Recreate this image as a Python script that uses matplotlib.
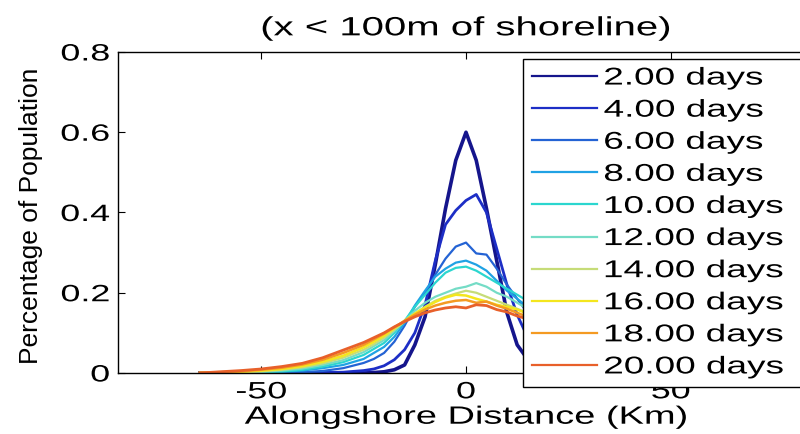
import numpy as np
import matplotlib.pyplot as plt
from matplotlib import patheffects
from matplotlib.transforms import Affine2D

plt.rcParams['font.family'] = ['Liberation Sans', 'DejaVu Sans']

# alongshore distance (km)
distance = [-65, -60, -55, -50, -45, -40, -35, -30, -25, -22.5, -20, -17.5, -15, -12.5,
            -10, -7.5, -5, -2.5, 0, 2.5, 5, 7.5, 10, 12.5, 15, 17.5, 20, 25, 30]

days = ['2.00 days', '4.00 days', '6.00 days', '8.00 days', '10.00 days',
        '12.00 days', '14.00 days', '16.00 days', '18.00 days', '20.00 days']

pct_02 = [0, 0, 0, 0, 0, 0, 0, 0, 0, 0.001, 0.003, 0.008, 0.02, 0.07,
          0.14, 0.27, 0.41, 0.53, 0.60, 0.53, 0.41, 0.28, 0.15, 0.07, 0.035, 0.015, 0.006, 0.001, 0]
pct_04 = [0, 0, 0, 0, 0, 0, 0.001, 0.002, 0.006, 0.01, 0.018, 0.033, 0.058, 0.1,
          0.17, 0.28, 0.37, 0.405, 0.43, 0.445, 0.40, 0.31, 0.22, 0.145, 0.09, 0.055, 0.032, 0.01, 0.003]
pct_06 = [0, 0, 0, 0, 0.001, 0.002, 0.005, 0.012, 0.025, 0.035, 0.05, 0.078, 0.118, 0.165,
          0.2, 0.245, 0.285, 0.315, 0.325, 0.298, 0.295, 0.26, 0.22, 0.185, 0.15, 0.12, 0.09, 0.05, 0.02]
pct_08 = [0, 0, 0, 0.001, 0.003, 0.006, 0.012, 0.02, 0.035, 0.05, 0.065, 0.09, 0.125, 0.168,
          0.205, 0.24, 0.26, 0.275, 0.28, 0.27, 0.255, 0.23, 0.205, 0.185, 0.165, 0.14, 0.115, 0.07, 0.035]
pct_10 = [0, 0, 0.001, 0.002, 0.004, 0.008, 0.016, 0.027, 0.045, 0.06, 0.075, 0.1, 0.13, 0.165,
          0.195, 0.225, 0.25, 0.262, 0.265, 0.255, 0.24, 0.225, 0.21, 0.195, 0.18, 0.16, 0.135, 0.09, 0.05]
pct_12 = [0, 0.001, 0.002, 0.003, 0.006, 0.011, 0.02, 0.032, 0.052, 0.067, 0.082, 0.105, 0.13, 0.155,
          0.175, 0.19, 0.2, 0.21, 0.215, 0.224, 0.215, 0.2, 0.19, 0.175, 0.16, 0.145, 0.125, 0.09, 0.055]
pct_14 = [0, 0.001, 0.002, 0.004, 0.008, 0.014, 0.024, 0.038, 0.058, 0.072, 0.088, 0.108, 0.128, 0.148,
          0.165, 0.18, 0.19, 0.198, 0.205, 0.2, 0.19, 0.18, 0.17, 0.16, 0.15, 0.135, 0.12, 0.09, 0.06]
pct_16 = [0, 0.001, 0.003, 0.006, 0.01, 0.017, 0.028, 0.043, 0.064, 0.078, 0.093, 0.112, 0.13, 0.148,
          0.163, 0.177, 0.188, 0.195, 0.193, 0.185, 0.178, 0.17, 0.165, 0.158, 0.148, 0.135, 0.12, 0.09, 0.06]
pct_18 = [0.001, 0.002, 0.004, 0.008, 0.013, 0.021, 0.033, 0.05, 0.07, 0.084, 0.098, 0.114, 0.13, 0.145,
          0.158, 0.168, 0.175, 0.18, 0.182, 0.175, 0.178, 0.168, 0.16, 0.15, 0.14, 0.128, 0.115, 0.09, 0.062]
pct_20 = [0, 0.003, 0.006, 0.01, 0.016, 0.024, 0.038, 0.057, 0.076, 0.088, 0.1, 0.115, 0.128, 0.14,
          0.15, 0.157, 0.162, 0.165, 0.162, 0.17, 0.168, 0.158, 0.152, 0.142, 0.135, 0.125, 0.112, 0.09, 0.065]

series = [pct_02, pct_04, pct_06, pct_08, pct_10, pct_12, pct_14, pct_16, pct_18, pct_20]

colors = ['#15158c', '#1d2ec6', '#2463d4', '#20a2e4', '#2bd6cf',
          '#74dcc6', '#c6dc78', '#f4e61e', '#f49a22', '#e8602a']
widths = [2.6, 2.0, 1.6, 1.6, 1.6, 1.6, 1.6, 1.8, 1.8, 2.0]


class WideText(patheffects.AbstractPathEffect):
    # the reference font is drawn wider than Arial, stretch glyphs horizontally
    def __init__(self, sx=1.52, anchor='center'):
        super().__init__()
        self.sx = sx
        self.anchor = anchor

    def draw_path(self, renderer, gc, tpath, affine, rgbFace=None):
        bb = tpath.get_extents(affine)
        px = {'left': bb.x0, 'center': (bb.x0 + bb.x1) / 2, 'right': bb.x1}[self.anchor]
        t = affine + Affine2D().translate(-px, 0).scale(self.sx, 1).translate(px, 0)
        renderer.draw_path(gc, tpath, t, rgbFace)


fig = plt.figure(figsize=(8, 4.34), dpi=100)
ax = fig.add_axes([0.1475, 0.1406, 0.87, 0.7396])

for vals, lab, c, lw in zip(series, days, colors, widths):
    ax.plot(distance, vals, color=c, linewidth=lw, label=lab)

ax.set_xlim(-85, 85)
ax.set_ylim(0, 0.8)
ax.set_xticks([-50, 0, 50])
ax.set_xticklabels(['-50', '0', '50'])
ax.set_yticks([0, 0.2, 0.4, 0.6, 0.8])
ax.set_yticklabels(['0', '0.2', '0.4', '0.6', '0.8'])
ax.tick_params(direction='in', length=5, width=0.8, top=True, right=True,
               labelsize=17, pad=6)
for sp in ax.spines.values():
    sp.set_linewidth(1.0)

for t in ax.get_xticklabels():
    t.set_path_effects([WideText(anchor='center')])
for t in ax.get_yticklabels():
    t.set_path_effects([WideText(anchor='right')])

title = ax.set_title('(x < 100m of shoreline)', fontsize=19, pad=12)
title.set_path_effects([WideText(anchor='center')])
xl = ax.set_xlabel('Alongshore Distance (Km)', fontsize=18, labelpad=1)
xl.set_path_effects([WideText(anchor='center')])
ax.set_ylabel('Percentage of Population', fontsize=19)
ax.yaxis.set_label_coords(-0.108, 0.49)

leg = ax.legend(loc='upper left', bbox_to_anchor=(0.654, 0.108, 0.45, 0.756),
                bbox_transform=fig.transFigure, mode='expand', borderaxespad=0,
                fontsize=17.5, frameon=True, fancybox=False, framealpha=1,
                edgecolor='black', handlelength=2.67, handletextpad=0.3,
                borderpad=0.35, labelspacing=0.415)
leg.get_frame().set_linewidth(1.0)
for t in leg.get_texts():
    t.set_path_effects([WideText(anchor='left')])
for h in leg.get_lines():
    h.set_linewidth(1.6)

fig.savefig('out.png', dpi=100)
